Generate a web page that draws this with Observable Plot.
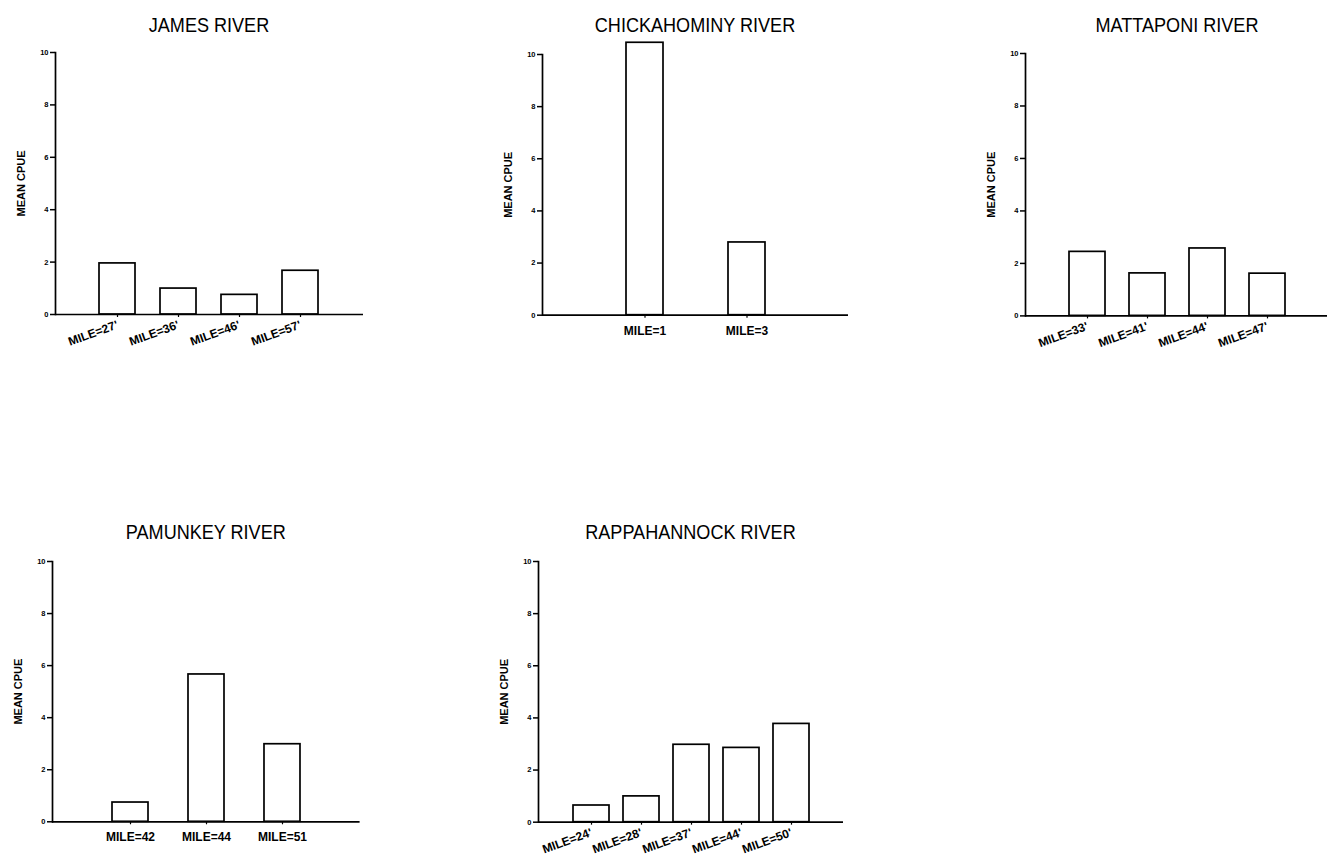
<!DOCTYPE html>
<html>
<head>
<meta charset="utf-8">
<script src="https://cdn.jsdelivr.net/npm/d3@7"></script>
<script src="https://cdn.jsdelivr.net/npm/@observablehq/plot@0.6"></script>
<style>
  html, body { margin: 0; padding: 0; background: #fff; overflow: hidden; }
  #root { position: relative; width: 1327px; height: 868px; overflow: hidden; background: #fff; }
  .panel { position: absolute; }
  .title { position: absolute; font-family: "Liberation Sans", Arial, sans-serif; font-size: 21px; color: #000; text-align: center; white-space: nowrap; transform: scaleX(0.86); transform-origin: center; line-height: 1; }
</style>
</head>
<body>
<div id="root"></div>
<script>
// ---- data ----
const riverNames = ["JAMES RIVER", "CHICKAHOMINY RIVER", "MATTAPONI RIVER", "PAMUNKEY RIVER", "RAPPAHANNOCK RIVER"];

const jamesMiles = ["MILE=27'", "MILE=36'", "MILE=46'", "MILE=57'"];
const jamesCPUE = [1.95, 0.99, 0.75, 1.67];

const chickahominyMiles = ["MILE=1", "MILE=3"];
const chickahominyCPUE = [10.45, 2.79];

const mattaponiMiles = ["MILE=33'", "MILE=41'", "MILE=44'", "MILE=47'"];
const mattaponiCPUE = [2.44, 1.62, 2.57, 1.61];

const pamunkeyMiles = ["MILE=42", "MILE=44", "MILE=51"];
const pamunkeyCPUE = [0.74, 5.66, 2.98];

const rappahannockMiles = ["MILE=24'", "MILE=28'", "MILE=37'", "MILE=44'", "MILE=50'"];
const rappahannockCPUE = [0.64, 0.99, 2.97, 2.85, 3.77];

const yTicks = [0, 2, 4, 6, 8, 10];
const yLabel = "MEAN CPUE";

// ---- layout (page pixels) ----
const layout = [
  {ax: 55,    y10: 52,    y0: 314,   W: 308,   rot: -20, titleBase: 30},
  {ax: 542,   y10: 54.3,  y0: 315,   W: 306,   rot: 0,   titleBase: 30},
  {ax: 1025,  y10: 53.3,  y0: 315.7, W: 304,   rot: -20, titleBase: 30},
  {ax: 51.7,  y10: 560.7, y0: 821,   W: 307.6, rot: 0,   titleBase: 537},
  {ax: 538.3, y10: 561,   y0: 821.7, W: 305,   rot: -20, titleBase: 537}
];
const series = [
  [jamesMiles, jamesCPUE],
  [chickahominyMiles, chickahominyCPUE],
  [mattaponiMiles, mattaponiCPUE],
  [pamunkeyMiles, pamunkeyCPUE],
  [rappahannockMiles, rappahannockCPUE]
];

const root = document.getElementById("root");
const mL = 50, mT = 20, mR = 5, mB = 60;
const barPx = 36.5;

series.forEach(([miles, vals], k) => {
  const L = layout[k];
  const rows = miles.map((m, i) => ({mile: m, cpue: vals[i]}));
  const n = miles.length;
  const step = L.W / (n + 1);
  const pi = 1 - barPx / step;
  const po = (1 + pi) / 2;
  const innerH = L.y0 - L.y10;

  const chart = Plot.plot({
    width: mL + L.W + mR,
    height: mT + innerH + mB,
    marginLeft: mL, marginTop: mT, marginRight: mR, marginBottom: mB,
    style: {fontFamily: "'Liberation Sans', Arial, sans-serif", color: "#000", background: "transparent", overflow: "visible"},
    x: {domain: miles, paddingInner: pi, paddingOuter: po, align: 0.5},
    y: {domain: [0, 10]},
    marks: [
      Plot.barY(rows, {x: "mile", y: "cpue", fill: "white", stroke: "black", strokeWidth: 1.7}),
      Plot.ruleY([0], {stroke: "black", strokeWidth: 1.7}),
      Plot.frame({anchor: "left", stroke: "black", strokeWidth: 1.7}),
      Plot.axisY({ticks: yTicks, tickSize: 5, tickPadding: 2, fontSize: 7.5, fontWeight: "bold", fill: "black", stroke: "black", label: null, strokeWidth: 1.5}),
      Plot.axisX({tickSize: 3, tickPadding: L.rot ? 7 : 8, tickRotate: L.rot, fontSize: 12, fontWeight: "bold", fill: "black", stroke: "black", label: null, strokeWidth: 1.2}),
      Plot.text([yLabel], {frameAnchor: "left", textAnchor: "middle", dx: -34, rotate: -90, fontSize: 11, fontWeight: "bold", fill: "black"})
    ]
  });
  chart.classList.add("panel");
  chart.style.left = (L.ax - mL) + "px";
  chart.style.top = (L.y10 - mT) + "px";
  root.appendChild(chart);

  const t = document.createElement("div");
  t.className = "title";
  t.textContent = riverNames[k];
  t.style.left = L.ax + "px";
  t.style.width = L.W + "px";
  t.style.top = (L.titleBase - 16) + "px";
  root.appendChild(t);
});
</script>
</body>
</html>
